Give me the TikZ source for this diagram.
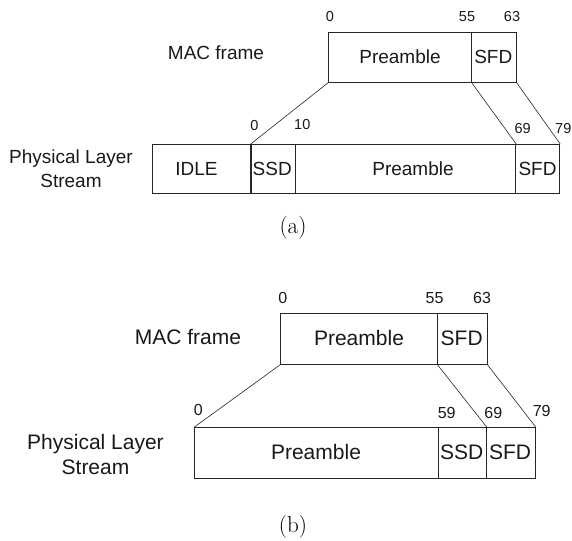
\documentclass[tikz,border=0pt]{standalone}
\usepackage{fontspec}
\setmainfont{Liberation Sans}
\newfontfamily\capfont{Latin Modern Roman}
\begin{document}
\begin{tikzpicture}[x=1pt,y=-1pt,
  cell/.style={draw=black!85, line width=0.9pt, inner sep=0pt, anchor=north west},
  txa/.style={inner sep=0pt, align=center, text=black!90, font=\fontsize{19}{23.5}\selectfont},
  txb/.style={inner sep=0pt, align=center, text=black!90, font=\fontsize{21}{25}\selectfont},
  numa/.style={inner sep=0pt, text=black!90, font=\fontsize{14.5}{16}\selectfont},
  numb/.style={inner sep=0pt, text=black!90, font=\fontsize{16}{18}\selectfont},
  captxt/.style={inner sep=0pt, font=\capfont\fontsize{23}{25}\selectfont},
  conn/.style={draw=black!85, line width=0.6pt}]
\useasboundingbox (0,0) rectangle (572,540);
% ---------- (a) ----------
\node[txa] (amac) at (216,53) {MAC frame};
\node[cell, minimum width=142.4pt, minimum height=50pt] (apre) at (328.3,31.7) {};
\node[cell, minimum width=45pt, minimum height=50pt] (asfd) at (470.7,31.7) {};
\node[txa] (apret) at (400,56.7) {Preamble};
\node[txa] (asfdt) at (493.3,56.7) {SFD};
\node[numa] (an0) at (330,17) {0};
\node[numa] (an55) at (467,17) {55};
\node[numa] (an63) at (512,17) {63};
\node[txa] (aphy) at (71,168.5) {Physical Layer\\Stream};
\node[cell, minimum width=99pt, minimum height=49.3pt] (pidle) at (151.7,144) {};
\node[cell, minimum width=44.3pt, minimum height=49.3pt] (pssd) at (250.7,144) {};
\node[cell, minimum width=220.3pt, minimum height=49.3pt] (ppre) at (295,144) {};
\node[cell, minimum width=44pt, minimum height=49.3pt] (psfd) at (515.3,144) {};
\draw[line width=1.5pt, draw=black!85] (pssd.north west) -- (pssd.south west);
\node[txa] (pidlet) at (196.5,169) {IDLE};
\node[txa] (pssdt) at (272.2,169) {SSD};
\node[txa] (ppret) at (413,169) {Preamble};
\node[txa] (psfdt) at (537.5,169) {SFD};
\node[numa] (pn0) at (254.3,126) {0};
\node[numa] (pn10) at (302.3,125) {10};
\node[numa] (pn69) at (522.7,129) {69};
\node[numa] (pn79) at (563.3,129) {79};
\draw[conn] (apre.south west) -- (pssd.north west);
\draw[conn] (apre.south east) -- (ppre.north east);
\draw[conn] (asfd.south east) -- (psfd.north east);
\node[captxt] (capa) at (293,228) {(a)};
% ---------- (b) ----------
\node[txb] (bmac) at (188,337) {MAC frame};
\node[cell, minimum width=156.7pt, minimum height=51pt] (bpre) at (280,313) {};
\node[cell, minimum width=50pt, minimum height=51pt] (bsfd) at (436.7,313) {};
\node[txb] (bpret) at (359,338) {Preamble};
\node[txb] (bsfdt) at (461.7,338) {SFD};
\node[numb] (bn0) at (282.7,298) {0};
\node[numb] (bn55) at (434.5,298) {55};
\node[numb] (bn63) at (482,298) {63};
\node[txb] (bphy) at (95.5,454) {Physical Layer\\Stream};
\node[cell, minimum width=243.7pt, minimum height=50.4pt] (qpre) at (194,427.3) {};
\node[cell, minimum width=48.3pt, minimum height=50.4pt] (qssd) at (437.7,427.3) {};
\node[cell, minimum width=49pt, minimum height=50.4pt] (qsfd) at (486,427.3) {};
\node[txb] (qpret) at (316,452.3) {Preamble};
\node[txb] (qssdt) at (461.7,452.3) {SSD};
\node[txb] (qsfdt) at (510,452.3) {SFD};
\node[numb] (qn0) at (198.3,410) {0};
\node[numb] (qn59) at (446.7,413.3) {59};
\node[numb] (qn69) at (493.3,413.3) {69};
\node[numb] (qn79) at (541.7,411) {79};
\draw[conn] (bpre.south west) -- (qpre.north west);
\draw[conn] (bpre.south east) -- (qssd.north east);
\draw[conn] (bsfd.south east) -- (qsfd.north east);
\node[captxt] (capb) at (293,527) {(b)};
\end{tikzpicture}
\end{document}
